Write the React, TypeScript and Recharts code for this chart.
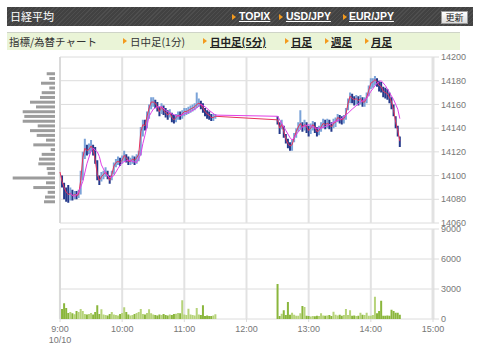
import React from 'react';
import { ComposedChart, BarChart, Bar, Line, XAxis, YAxis, CartesianGrid, Cell, ReferenceLine } from 'recharts';

// minutes after 9:00 in 2-minute buckets: morning 9:00-11:30, afternoon 12:30-14:28
const steps = (from: number, to: number) => {
  const out: number[] = [];
  for (let t = from; t <= to; t += 2) out.push(t);
  return out;
};
const amMinutes = steps(0, 150);
const pmMinutes = steps(210, 328);

const amClose = [
  14103, 14095, 14090, 14086, 14084, 14085, 14083, 14084, 14083, 14084,
  14096, 14115, 14123, 14121, 14122, 14125, 14122, 14113, 14101, 14096,
  14099, 14101, 14103, 14100, 14096, 14101, 14108, 14111, 14112, 14111,
  14113, 14117, 14115, 14112, 14112, 14114, 14113, 14115, 14118, 14137,
  14143, 14142, 14150, 14157, 14162, 14162, 14161, 14158, 14154, 14158,
  14155, 14153, 14151, 14153, 14149, 14147, 14149, 14151, 14150, 14152,
  14154, 14154, 14155, 14156, 14157, 14158, 14160, 14161, 14160, 14157,
  14154, 14152, 14151, 14149, 14149, 14150,
];
const amHigh = [
  14110, 14100, 14094, 14090, 14092, 14090, 14088, 14087, 14087, 14088,
  14104, 14120, 14131, 14126, 14127, 14130, 14126, 14124, 14113, 14100,
  14103, 14104, 14107, 14104, 14100, 14104, 14111, 14114, 14116, 14115,
  14117, 14121, 14118, 14116, 14115, 14117, 14116, 14118, 14121, 14141,
  14147, 14147, 14154, 14160, 14166, 14166, 14164, 14162, 14158, 14161,
  14159, 14157, 14155, 14156, 14153, 14151, 14152, 14154, 14154, 14155,
  14157, 14157, 14158, 14159, 14160, 14161, 14170, 14165, 14163, 14161,
  14157, 14155, 14154, 14152, 14152, 14152,
];
const amLow = [
  14098, 14090, 14080, 14078, 14077, 14079, 14079, 14080, 14080, 14081,
  14084, 14096, 14114, 14117, 14118, 14120, 14117, 14110, 14096, 14092,
  14095, 14097, 14099, 14097, 14093, 14096, 14101, 14107, 14109, 14108,
  14110, 14112, 14111, 14109, 14109, 14110, 14109, 14110, 14112, 14117,
  14133, 14138, 14140, 14148, 14156, 14158, 14157, 14154, 14150, 14152,
  14151, 14149, 14147, 14149, 14145, 14144, 14145, 14147, 14147, 14148,
  14150, 14151, 14152, 14153, 14154, 14155, 14157, 14158, 14156, 14153,
  14150, 14148, 14147, 14146, 14146, 14148,
];
const amVolume = [
  8860, 1000, 1570, 1100, 600, 700, 570, 470, 800, 700,
  1000, 800, 500, 450, 500, 600, 450, 700, 1370, 500,
  970, 450, 400, 350, 500, 700, 450, 400, 350, 500,
  600, 1170, 700, 450, 350, 400, 500, 600, 700, 1000,
  500, 450, 600, 970, 570, 450, 400, 350, 450, 400,
  500, 400, 350, 450, 400, 500, 530, 600, 570, 1870,
  450, 400, 1030, 450, 400, 350, 1100, 450, 400, 1370,
  300, 350, 300, 300, 350, 470,
];

const pmClose = [
  14147, 14140, 14143, 14137, 14131, 14127, 14125, 14126, 14132, 14137,
  14141, 14144, 14141, 14143, 14141, 14138, 14140, 14143, 14141, 14137,
  14138, 14141, 14144, 14143, 14144, 14143, 14141, 14144, 14145, 14149,
  14148, 14147, 14148, 14152, 14161, 14167, 14165, 14164, 14165, 14163,
  14165, 14162, 14162, 14166, 14172, 14178, 14179, 14181, 14179, 14176,
  14175, 14171, 14170, 14169, 14166, 14162, 14155, 14145, 14138, 14129,
];
const pmHigh = [
  14150, 14145, 14147, 14142, 14135, 14131, 14128, 14130, 14136, 14140,
  14145, 14155, 14145, 14147, 14145, 14142, 14144, 14146, 14145, 14141,
  14142, 14145, 14148, 14147, 14148, 14147, 14145, 14148, 14149, 14152,
  14151, 14150, 14151, 14157, 14165, 14170, 14169, 14167, 14168, 14167,
  14168, 14166, 14166, 14170, 14176, 14182, 14182, 14184, 14182, 14180,
  14179, 14175, 14174, 14173, 14170, 14166, 14160, 14150, 14142, 14133,
];
const pmLow = [
  14143, 14135, 14139, 14132, 14127, 14123, 14121, 14121, 14128, 14132,
  14137, 14139, 14137, 14138, 14136, 14133, 14135, 14138, 14136, 14133,
  14134, 14137, 14140, 14139, 14140, 14139, 14137, 14140, 14141, 14145,
  14144, 14143, 14144, 14147, 14155, 14161, 14161, 14159, 14160, 14159,
  14160, 14158, 14158, 14161, 14167, 14173, 14174, 14176, 14175, 14171,
  14170, 14166, 14165, 14164, 14161, 14156, 14150, 14140, 14133, 14124,
];
const pmVolume = [
  3500, 300, 530, 870, 400, 1700, 430, 630, 430, 330,
  330, 570, 1300, 1200, 330, 300, 250, 300, 280, 330,
  300, 570, 350, 330, 350, 400, 300, 730, 430, 350,
  430, 330, 400, 1000, 400, 870, 330, 350, 300, 330,
  630, 430, 400, 630, 330, 330, 400, 2230, 570, 800,
  1830, 330, 330, 350, 330, 930, 800, 630, 630, 430,
];

// slower moving average (magenta), read at the points where it bends
const maMinutes = [
  10, 14, 18, 22, 26, 30, 32, 36, 38, 40, 44, 48, 52, 56, 60, 66, 74, 78, 80, 82, 84, 86, 88, 90,
  94, 98, 102, 108, 114, 120, 126, 132, 136, 140, 144, 150,
  210, 214, 218, 222, 224, 226, 230, 234, 240, 246, 252, 258, 264, 270, 276, 282, 290, 296, 300,
  306, 310, 314, 318, 322, 326, 328,
];
const maValues = [
  14085, 14082, 14086, 14095, 14110, 14121, 14123, 14120, 14116, 14109, 14102, 14098, 14100, 14106,
  14111, 14113, 14111, 14118, 14127, 14134, 14142, 14150, 14153, 14156,
  14158, 14158, 14155, 14152, 14150, 14152, 14154, 14157, 14160, 14158, 14155, 14151,
  14150, 14144, 14138, 14132, 14130, 14132, 14137, 14141, 14143, 14140, 14140, 14142, 14145, 14147,
  14151, 14156, 14162, 14165, 14171, 14178, 14180, 14176, 14170, 14164, 14156, 14148,
];

// volume by price (left histogram), 4-yen bins
const pvPrices = [
  14186, 14182, 14178, 14174, 14170, 14166, 14162, 14158, 14154, 14150, 14146, 14142, 14138, 14134,
  14130, 14126, 14122, 14118, 14114, 14110, 14106, 14102, 14098, 14094, 14090, 14086, 14082, 14078,
];
const pvVolume = [
  83, 57, 140, 57, 133, 150, 250, 190, 323, 307, 323, 173, 250, 183,
  90, 217, 43, 133, 160, 167, 83, 73, 423, 90, 217, 73, 100, 110,
];

const priceTicks = [14060, 14080, 14100, 14120, 14140, 14160, 14180, 14200];
const volumeTicks = [0, 3000, 6000, 9000];
const hourTicks = [0, 60, 120, 180, 240, 300, 360];
const hourLabels = ['9:00', '10:00', '11:00', '12:00', '13:00', '14:00', '15:00'];
const dateLabel = '10/10';

const minutes = [...amMinutes, ...pmMinutes];
const closes = [...amClose, ...pmClose];
const highs = [...amHigh, ...pmHigh];
const lows = [...amLow, ...pmLow];
const volumes = [...amVolume, ...pmVolume];

const rows = minutes.map((t, i) => {
  const k = maMinutes.indexOf(t);
  return {
    t,
    close: closes[i],
    hl: [lows[i], highs[i]],
    vol: volumes[i],
    ma: k >= 0 ? maValues[k] : null,
    up: i === 0 || closes[i] >= closes[i - 1],
  };
});
const pvRows = pvPrices.map((price, i) => ({ price, vol: pvVolume[i] }));

const jp = '"Noto Sans CJK JP", sans-serif';
const latin = '"Liberation Sans", Arial, sans-serif';
const axisText = { fontSize: 9, fill: '#777', fontFamily: latin };

const Arrow = ({ x, y }: { x: number; y: number }) => (
  <div style={{ position: 'absolute', left: x, top: y, width: 0, height: 0, borderLeft: '4px solid #f39a1e', borderTop: '3px solid transparent', borderBottom: '3px solid transparent' }} />
);

const TimeTick = (props: any) => {
  const { x, y, payload } = props;
  const i = hourTicks.indexOf(payload.value);
  return (
    <g>
      <text x={x} y={y} dy={8} textAnchor="middle" {...axisText}>{hourLabels[i]}</text>
      {i === 0 && <text x={x} y={y} dy={19} textAnchor="middle" {...axisText}>{dateLabel}</text>}
    </g>
  );
};

export default function App() {
  const link = { position: 'absolute' as const, fontWeight: 700, textDecoration: 'underline' };
  return (
    <div style={{ position: 'absolute', left: 0, top: 0, width: 480, height: 350, background: '#fff', overflow: 'hidden', fontFamily: jp }}>
      <div style={{ position: 'absolute', left: 7, top: 7, width: 466, height: 19, background: 'repeating-linear-gradient(-45deg, #4e4e4e 0px, #4e4e4e 1px, #424242 1px, #424242 3px)' }} />
      <div style={{ position: 'absolute', left: 10, top: 9, color: '#fff', fontSize: 11, lineHeight: '15px' }}>日経平均</div>
      <Arrow x={232} y={14} />
      <div style={{ ...link, left: 239, top: 10, color: '#fff', fontSize: 10.5, lineHeight: '13px', fontFamily: latin }}>TOPIX</div>
      <Arrow x={279} y={14} />
      <div style={{ ...link, left: 286, top: 10, color: '#fff', fontSize: 10.5, lineHeight: '13px', fontFamily: latin }}>USD/JPY</div>
      <Arrow x={343} y={14} />
      <div style={{ ...link, left: 349, top: 10, color: '#fff', fontSize: 10.5, lineHeight: '13px', fontFamily: latin }}>EUR/JPY</div>
      <div style={{ position: 'absolute', left: 441, top: 11, width: 25, height: 11, border: '1px solid #999', background: 'linear-gradient(#ffffff, #dddddd)', color: '#222', fontSize: 9, lineHeight: '11px', textAlign: 'center' }}>更新</div>

      <div style={{ position: 'absolute', left: 7, top: 32, width: 453, height: 17, background: '#eaf4d7', borderTop: '1px solid #cfd4c8' }} />
      <div style={{ position: 'absolute', left: 9, top: 35, color: '#333', fontSize: 10.5, lineHeight: '13px' }}>指標/為替チャート</div>
      <Arrow x={123} y={38} />
      <div style={{ position: 'absolute', left: 130, top: 35, color: '#333', fontSize: 10.5, lineHeight: '13px' }}>日中足(1分)</div>
      <Arrow x={203} y={38} />
      <div style={{ ...link, left: 210, top: 35, color: '#222', fontSize: 10.5, lineHeight: '13px' }}>日中足(5分)</div>
      <Arrow x={285} y={38} />
      <div style={{ ...link, left: 291, top: 35, color: '#222', fontSize: 10.5, lineHeight: '13px' }}>日足</div>
      <Arrow x={325} y={38} />
      <div style={{ ...link, left: 331, top: 35, color: '#222', fontSize: 10.5, lineHeight: '13px' }}>週足</div>
      <Arrow x={365} y={38} />
      <div style={{ ...link, left: 371, top: 35, color: '#222', fontSize: 10.5, lineHeight: '13px' }}>月足</div>

      <BarChart layout="vertical" width={60} height={230} data={pvRows} margin={{ top: 57, right: 5, bottom: 7, left: 10 }} style={{ position: 'absolute', left: 0, top: 0 }}>
        <XAxis type="number" reversed domain={[0, 450]} hide />
        <YAxis type="number" dataKey="price" domain={[14060, 14200]} reversed allowDataOverflow hide />
        <Bar dataKey="vol" fill="#9c9c9c" barSize={3} isAnimationActive={false} />
      </BarChart>

      <ComposedChart width={480} height={230} data={rows} margin={{ top: 57, right: 7, bottom: 7, left: 60 }} style={{ position: 'absolute', left: 0, top: 0 }}>
        <CartesianGrid vertical={false} stroke="#dcdcdc" />
        <CartesianGrid horizontal={false} stroke="#e2e2e2" strokeWidth={2} />
        <XAxis type="number" dataKey="t" domain={[0, 360]} ticks={hourTicks} hide />
        <YAxis orientation="right" domain={[14060, 14200]} ticks={priceTicks} allowDataOverflow width={40}
          tick={axisText} tickLine={{ stroke: '#dcdcdc' }} axisLine={{ stroke: '#e2e2e2', strokeWidth: 3 }} />
        <ReferenceLine x={0} stroke="#dadada" strokeWidth={2} />
        <Bar dataKey="hl" barSize={2} isAnimationActive={false}>
          {rows.map((r) => <Cell key={r.t} fill={r.up ? '#7ba3d8' : '#24398b'} />)}
        </Bar>
        <Line dataKey="close" stroke="#e8315c" strokeWidth={1} dot={false} isAnimationActive={false} />
        <Line dataKey="ma" stroke="#e13ee6" strokeWidth={1} dot={false} connectNulls isAnimationActive={false} />
      </ComposedChart>

      <ComposedChart width={480} height={127} data={rows} margin={{ top: 6, right: 7, bottom: 0, left: 60 }} style={{ position: 'absolute', left: 0, top: 223 }}>
        <CartesianGrid vertical={false} stroke="#dcdcdc" />
        <CartesianGrid horizontal={false} stroke="#e2e2e2" strokeWidth={2} />
        <XAxis type="number" dataKey="t" domain={[0, 360]} ticks={hourTicks} interval={0} height={31}
          tick={(p: any) => <TimeTick {...p} />} tickSize={3} tickLine={{ stroke: '#dcdcdc' }} axisLine={false} />
        <YAxis orientation="right" domain={[0, 9000]} ticks={volumeTicks} allowDataOverflow width={40}
          tick={axisText} tickLine={{ stroke: '#dcdcdc' }} axisLine={{ stroke: '#e2e2e2', strokeWidth: 3 }} />
        <ReferenceLine x={0} stroke="#dadada" strokeWidth={2} />
        <Bar dataKey="vol" barSize={2} isAnimationActive={false}>
          {rows.map((r) => <Cell key={r.t} fill={r.up ? '#b6d37a' : '#8ab63c'} />)}
        </Bar>
      </ComposedChart>
    </div>
  );
}
